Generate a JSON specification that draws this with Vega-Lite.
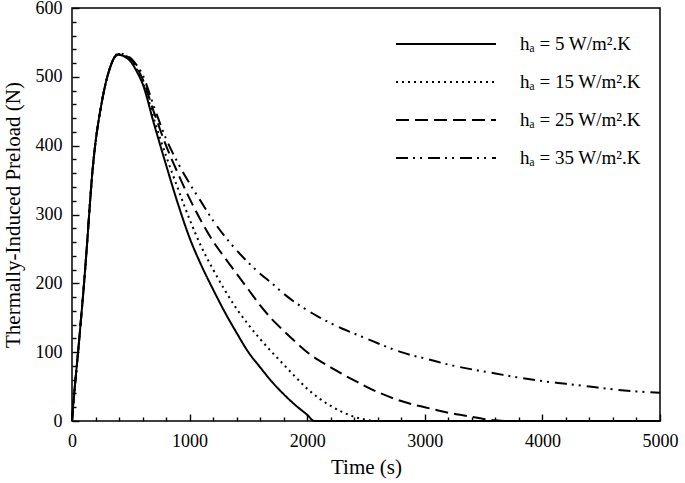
{
  "$schema": "https://vega.github.io/schema/vega-lite/v6.json",
  "width": 588,
  "height": 413,
  "autosize": {"type": "none"},
  "padding": {"left": 72, "top": 8, "right": 25, "bottom": 62},
  "background": "white",
  "config": {
    "view": {"stroke": "black", "strokeWidth": 1.5},
    "font": "Liberation Serif",
    "axis": {
      "labelFont": "Liberation Serif",
      "labelFontSize": 18,
      "labelColor": "black",
      "titleFont": "Liberation Serif",
      "titleFontSize": 21,
      "titleFontWeight": "normal",
      "titleColor": "black",
      "ticks": true,
      "tickColor": "black",
      "tickWidth": 1.4,
      "tickOpacity": 1,
      "domain": false,
      "grid": false
    }
  },
  "data": {
    "values": [
      {"h":"5","t":0,"F":0},{"h":"5","t":10,"F":22},{"h":"5","t":25,"F":52},{"h":"5","t":50,"F":97},{"h":"5","t":75,"F":145},{"h":"5","t":100,"F":195},{"h":"5","t":125,"F":250},{"h":"5","t":150,"F":310},{"h":"5","t":175,"F":365},{"h":"5","t":200,"F":405},{"h":"5","t":225,"F":435},{"h":"5","t":250,"F":460},{"h":"5","t":275,"F":482},{"h":"5","t":300,"F":500},{"h":"5","t":325,"F":514},{"h":"5","t":350,"F":525},{"h":"5","t":375,"F":531},{"h":"5","t":400,"F":532},{"h":"5","t":450,"F":529},{"h":"5","t":500,"F":522},{"h":"5","t":550,"F":508},
      {"h":"5","t":600,"F":490},{"h":"5","t":700,"F":430},{"h":"5","t":800,"F":372},{"h":"5","t":900,"F":316},{"h":"5","t":1000,"F":266},{"h":"5","t":1100,"F":226},{"h":"5","t":1200,"F":191},{"h":"5","t":1300,"F":158},{"h":"5","t":1400,"F":128},{"h":"5","t":1500,"F":100},{"h":"5","t":1600,"F":78},{"h":"5","t":1700,"F":57},{"h":"5","t":1800,"F":39},{"h":"5","t":1900,"F":23},{"h":"5","t":2000,"F":9},{"h":"5","t":2060,"F":0},{"h":"5","t":3000,"F":0},{"h":"5","t":4000,"F":0},{"h":"5","t":5000,"F":0},

      {"h":"15","t":0,"F":0},{"h":"15","t":10,"F":22},{"h":"15","t":25,"F":52},{"h":"15","t":50,"F":97},{"h":"15","t":75,"F":145},{"h":"15","t":100,"F":195},{"h":"15","t":125,"F":250},{"h":"15","t":150,"F":310},{"h":"15","t":175,"F":365},{"h":"15","t":200,"F":405},{"h":"15","t":225,"F":435},{"h":"15","t":250,"F":460},{"h":"15","t":275,"F":482},{"h":"15","t":300,"F":500},{"h":"15","t":325,"F":514},{"h":"15","t":350,"F":525},{"h":"15","t":375,"F":531},{"h":"15","t":400,"F":532},{"h":"15","t":450,"F":530},{"h":"15","t":500,"F":524},{"h":"15","t":550,"F":511},
      {"h":"15","t":600,"F":494},{"h":"15","t":700,"F":437},{"h":"15","t":800,"F":385},{"h":"15","t":900,"F":338},{"h":"15","t":1000,"F":293},{"h":"15","t":1100,"F":253},{"h":"15","t":1200,"F":220},{"h":"15","t":1300,"F":190},{"h":"15","t":1400,"F":163},{"h":"15","t":1500,"F":140},{"h":"15","t":1600,"F":119},{"h":"15","t":1700,"F":100},{"h":"15","t":1800,"F":82},{"h":"15","t":1900,"F":64},{"h":"15","t":2000,"F":47},{"h":"15","t":2100,"F":33},{"h":"15","t":2200,"F":22},{"h":"15","t":2300,"F":13},{"h":"15","t":2400,"F":6},{"h":"15","t":2500,"F":2},{"h":"15","t":2560,"F":0},{"h":"15","t":3000,"F":0},{"h":"15","t":4000,"F":0},{"h":"15","t":5000,"F":0},

      {"h":"25","t":0,"F":0},{"h":"25","t":10,"F":22},{"h":"25","t":25,"F":52},{"h":"25","t":50,"F":97},{"h":"25","t":75,"F":145},{"h":"25","t":100,"F":195},{"h":"25","t":125,"F":250},{"h":"25","t":150,"F":310},{"h":"25","t":175,"F":365},{"h":"25","t":200,"F":405},{"h":"25","t":225,"F":435},{"h":"25","t":250,"F":460},{"h":"25","t":275,"F":482},{"h":"25","t":300,"F":500},{"h":"25","t":325,"F":514},{"h":"25","t":350,"F":525},{"h":"25","t":375,"F":531},{"h":"25","t":400,"F":533},{"h":"25","t":450,"F":531},{"h":"25","t":500,"F":526},{"h":"25","t":550,"F":514},
      {"h":"25","t":600,"F":497},{"h":"25","t":700,"F":447},{"h":"25","t":800,"F":400},{"h":"25","t":900,"F":360},{"h":"25","t":1000,"F":323},{"h":"25","t":1100,"F":290},{"h":"25","t":1200,"F":261},{"h":"25","t":1300,"F":237},{"h":"25","t":1400,"F":214},{"h":"25","t":1500,"F":191},{"h":"25","t":1600,"F":168},{"h":"25","t":1700,"F":148},{"h":"25","t":1800,"F":131},{"h":"25","t":1900,"F":115},{"h":"25","t":2000,"F":100},{"h":"25","t":2100,"F":88},{"h":"25","t":2200,"F":78},{"h":"25","t":2300,"F":68},{"h":"25","t":2400,"F":59},{"h":"25","t":2500,"F":50},{"h":"25","t":2600,"F":42},{"h":"25","t":2700,"F":35},{"h":"25","t":2800,"F":29},{"h":"25","t":2900,"F":24},{"h":"25","t":3000,"F":20},{"h":"25","t":3100,"F":16},{"h":"25","t":3200,"F":12},{"h":"25","t":3300,"F":9},{"h":"25","t":3400,"F":6},{"h":"25","t":3500,"F":3},{"h":"25","t":3600,"F":1},{"h":"25","t":3700,"F":0},{"h":"25","t":4000,"F":0},{"h":"25","t":5000,"F":0},

      {"h":"35","t":0,"F":0},{"h":"35","t":10,"F":22},{"h":"35","t":25,"F":52},{"h":"35","t":50,"F":97},{"h":"35","t":75,"F":145},{"h":"35","t":100,"F":195},{"h":"35","t":125,"F":250},{"h":"35","t":150,"F":310},{"h":"35","t":175,"F":365},{"h":"35","t":200,"F":405},{"h":"35","t":225,"F":435},{"h":"35","t":250,"F":460},{"h":"35","t":275,"F":482},{"h":"35","t":300,"F":500},{"h":"35","t":325,"F":514},{"h":"35","t":350,"F":525},{"h":"35","t":375,"F":532},{"h":"35","t":400,"F":534},{"h":"35","t":450,"F":532},{"h":"35","t":500,"F":527},{"h":"35","t":550,"F":517},
      {"h":"35","t":600,"F":503},{"h":"35","t":700,"F":455},{"h":"35","t":800,"F":410},{"h":"35","t":900,"F":375},{"h":"35","t":1000,"F":345},{"h":"35","t":1100,"F":318},{"h":"35","t":1200,"F":291},{"h":"35","t":1300,"F":268},{"h":"35","t":1400,"F":248},{"h":"35","t":1500,"F":230},{"h":"35","t":1600,"F":214},{"h":"35","t":1700,"F":200},{"h":"35","t":1800,"F":185},{"h":"35","t":1900,"F":172},{"h":"35","t":2000,"F":161},{"h":"35","t":2100,"F":151},{"h":"35","t":2200,"F":142},{"h":"35","t":2300,"F":134},{"h":"35","t":2400,"F":127},{"h":"35","t":2500,"F":120},{"h":"35","t":2600,"F":113},{"h":"35","t":2700,"F":106},{"h":"35","t":2800,"F":100},{"h":"35","t":2900,"F":95},{"h":"35","t":3000,"F":91},{"h":"35","t":3200,"F":82},{"h":"35","t":3400,"F":75},{"h":"35","t":3600,"F":69},{"h":"35","t":3800,"F":63},{"h":"35","t":4000,"F":58},{"h":"35","t":4200,"F":54},{"h":"35","t":4400,"F":50},{"h":"35","t":4600,"F":46},{"h":"35","t":4800,"F":43},{"h":"35","t":5000,"F":41}
    ]
  },
  "layer": [
    {
      "mark": {"type": "point", "opacity": 0},
      "encoding": {
        "x": {"field": "t", "type": "quantitative", "scale": {"domain": [0, 5000], "nice": false},
              "axis": {"orient": "bottom", "title": null, "labels": false, "offset": -4, "tickSize": 4, "ticks": true,
                       "values": [200,400,600,800,1200,1400,1600,1800,2200,2400,2600,2800,3200,3400,3600,3800,4200,4400,4600,4800]}},
        "y": {"field": "F", "type": "quantitative", "scale": {"domain": [0, 600], "nice": false},
              "axis": {"orient": "left", "title": null, "labels": false, "offset": -4, "tickSize": 4, "ticks": true,
                       "values": [20,40,60,80,120,140,160,180,220,240,260,280,320,340,360,380,420,440,460,480,520,540,560,580]}}
      }
    },
    {
      "mark": {"type": "line", "color": "black", "strokeWidth": 2, "interpolate": "monotone"},
      "encoding": {
        "x": {"field": "t", "type": "quantitative", "scale": {"domain": [0, 5000], "nice": false},
              "axis": {"orient": "bottom", "title": "Time (s)", "values": [0,1000,2000,3000,4000,5000], "format": "d", "ticks": true,
                       "offset": -7, "tickSize": 7, "labelPadding": 11, "titlePadding": 6, "labelFlush": false}},
        "y": {"field": "F", "type": "quantitative", "scale": {"domain": [0, 600], "nice": false},
              "axis": {"orient": "left", "title": "Thermally-Induced Preload (N)", "values": [0,100,200,300,400,500,600], "format": "d", "ticks": true,
                       "offset": -7, "tickSize": 7, "labelPadding": 10, "titlePadding": 12, "labelFlush": false}},
        "strokeDash": {
          "field": "h", "type": "nominal",
          "scale": {"domain": ["5","15","25","35"], "range": [[1,0],[2,4],[13,6],[12,5,2,5,2,6]]},
          "legend": {
            "orient": "none", "legendX": 323, "legendY": 25, "title": null, "padding": 0, "rowPadding": 16, "clipHeight": 22,
            "symbolType": "stroke", "symbolSize": 10000, "symbolStrokeWidth": 2, "symbolStrokeColor": "black",
            "labelFont": "Liberation Serif", "labelFontSize": 19, "labelColor": "black", "labelOffset": 23,
            "labelExpr": "'hₐ = ' + datum.label + ' W/m².K'"
          }
        }
      }
    }
  ],
  "resolve": {"axis": {"x": "independent", "y": "independent"}}
}
